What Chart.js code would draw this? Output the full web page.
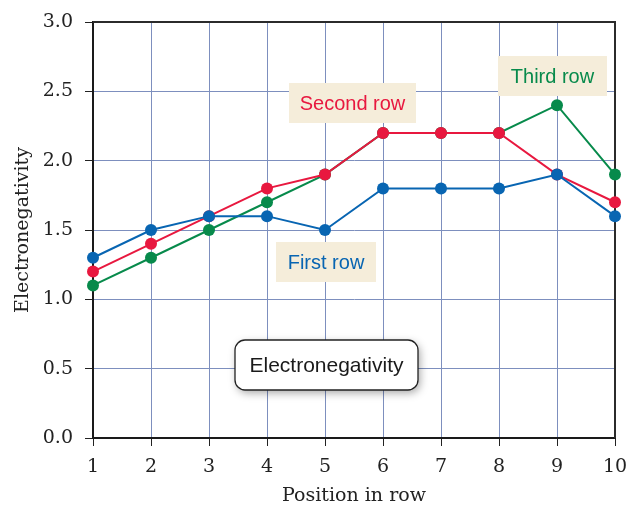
<!DOCTYPE html>
<html>
<head>
<meta charset="utf-8">
<script src="https://cdn.jsdelivr.net/npm/chart.js@4"></script>
<style>
  html, body { margin: 0; padding: 0; background: #fff; }
  #wrap { width: 628px; height: 506px; }
</style>
</head>
<body>
<div id="wrap"><canvas id="chart" width="628" height="506"></canvas></div>
<script>
var positions = [1, 2, 3, 4, 5, 6, 7, 8, 9, 10];
var firstRow = [1.3, 1.5, 1.6, 1.6, 1.5, 1.8, 1.8, 1.8, 1.9, 1.6];
var secondRow = [1.2, 1.4, 1.6, 1.8, 1.9, 2.2, 2.2, 2.2, 1.9, 1.7];
var thirdRow = [1.1, 1.3, 1.5, 1.7, 1.9, 2.2, 2.2, 2.2, 2.4, 1.9];
var seriesNames = ["First row", "Second row", "Third row"];
var seriesColors = ["#0865b2", "#e8183f", "#078a4b"];

var toPoints = function (vals) {
    return vals.map((v, i) => ({ x: positions[i], y: v }));
};

var serif = "'DejaVu Serif', 'Liberation Serif', serif";

// labels on beige boxes + the boxed title, drawn under the lines
var labelPlugin = {
    id: "labels",
    beforeDatasetsDraw: function (chart) {
        var ctx = chart.ctx;
        var a = chart.chartArea;
        ctx.save();
        // top and right frame
        ctx.strokeStyle = "#2b2b2b";
        ctx.lineWidth = 2;
        ctx.beginPath();
        ctx.moveTo(a.left, a.top);
        ctx.lineTo(a.right, a.top);
        ctx.lineTo(a.right, a.bottom);
        ctx.stroke();

        var boxes = [
            { text: seriesNames[0], color: seriesColors[0], x: 276, y: 242, w: 100, h: 40 },
            { text: seriesNames[1], color: seriesColors[1], x: 289, y: 83, w: 127, h: 40 },
            { text: seriesNames[2], color: seriesColors[2], x: 498, y: 56, w: 109, h: 40 }
        ];
        ctx.font = "20px 'Liberation Sans', sans-serif";
        ctx.textAlign = "center";
        ctx.textBaseline = "middle";
        boxes.forEach(b => {
            ctx.fillStyle = "#f5edda";
            ctx.fillRect(b.x, b.y, b.w, b.h);
            ctx.fillStyle = b.color;
            ctx.fillText(b.text, b.x + b.w / 2, b.y + b.h / 2 + 1);
        });

        // boxed title
        var tx = 235, ty = 340, tw = 183, th = 50, r = 10;
        ctx.shadowColor = "rgba(0,0,0,0.35)";
        ctx.shadowBlur = 8;
        ctx.shadowOffsetX = 2;
        ctx.shadowOffsetY = 3;
        ctx.beginPath();
        ctx.roundRect(tx, ty, tw, th, r);
        ctx.fillStyle = "#fff";
        ctx.fill();
        ctx.shadowColor = "transparent";
        ctx.lineWidth = 1.3;
        ctx.strokeStyle = "#222";
        ctx.stroke();
        ctx.fillStyle = "#1a1a1a";
        ctx.font = "21px 'Liberation Sans', sans-serif";
        ctx.fillText("Electronegativity", tx + tw / 2, ty + th / 2 + 1);
        ctx.restore();
    }
};

const ctx = document.getElementById("chart");
var chart = new Chart(ctx, {
    type: "line",
    data: {
        // first dataset is drawn on top
        datasets: [firstRow, secondRow, thirdRow].map((vals, i) => ({
            label: seriesNames[i],
            data: toPoints(vals),
            borderColor: seriesColors[i],
            backgroundColor: seriesColors[i],
            borderWidth: 2,
            pointRadius: 6,
            pointHoverRadius: 6,
            pointBorderWidth: 0,
            tension: 0
        }))
    },
    options: {
        responsive: false,
        animation: false,
        clip: false,
        layout: { padding: { top: 22, right: 13, left: 0, bottom: 0 } },
        plugins: {
            legend: { display: false },
            tooltip: { enabled: false }
        },
        scales: {
            x: {
                type: "linear",
                min: 1,
                max: 10,
                afterFit: s => { s.height = 68; s.paddingLeft = 0; s.paddingRight = 0; },
                ticks: {
                    stepSize: 1,
                    color: "#222",
                    padding: 10,
                    font: { family: serif, size: 19 }
                },
                grid: { color: "#7d8fbe", lineWidth: 1, tickColor: "#222", tickLength: 8 },
                border: { color: "#1a1a1a", width: 2 },
                title: {
                    display: true,
                    text: "Position in row",
                    color: "#222",
                    padding: { top: 10, bottom: 0 },
                    font: { family: serif, size: 19, lineHeight: 1 }
                }
            },
            y: {
                min: 0,
                max: 3,
                afterFit: s => { s.width = 93; s.paddingTop = 0; s.paddingBottom = 0; },
                ticks: {
                    stepSize: 0.5,
                    color: "#222",
                    padding: 12,
                    callback: v => v.toFixed(1),
                    font: { family: serif, size: 19 }
                },
                grid: { color: "#7d8fbe", lineWidth: 1, tickColor: "#222", tickLength: 8 },
                border: { color: "#1a1a1a", width: 2 },
                title: {
                    display: true,
                    text: "Electronegativity",
                    color: "#222",
                    padding: { top: 12, bottom: 0 },
                    font: { family: serif, size: 19 }
                }
            }
        }
    },
    plugins: [labelPlugin]
});
</script>
</body>
</html>
